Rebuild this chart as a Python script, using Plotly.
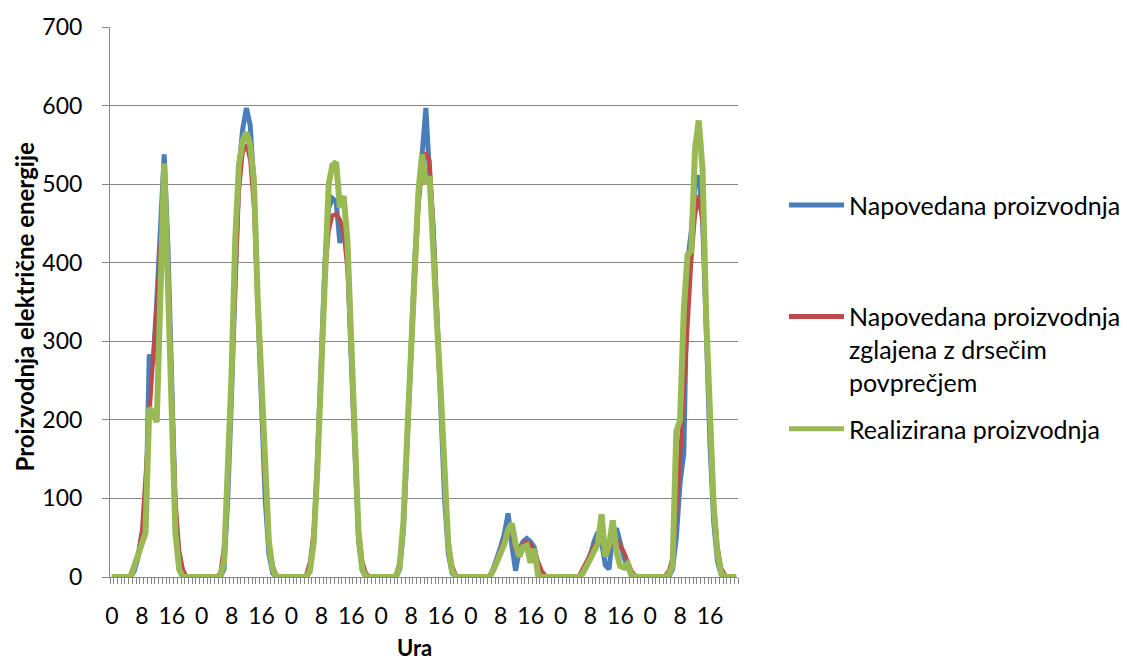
import plotly.graph_objects as go

# Hour of day for each hourly sample (7 days)
ure_dneva = list(range(24))
ura = ure_dneva * 7

# Forecast production (hourly)
napovedana = [
    0, 0, 0, 0, 0, 0, 8, 25, 55, 60, 283, 270, 350, 460, 538, 420, 240, 80, 20, 4, 0, 0, 0, 0,
    0, 0, 0, 0, 0, 0, 10, 100, 230, 400, 520, 570, 597, 575, 500, 350, 235, 100, 30, 5, 0, 0, 0, 0,
    0, 0, 0, 0, 0, 10, 50, 150, 280, 400, 470, 482, 478, 425, 450, 420, 280, 140, 45, 8, 0, 0, 0, 0,
    0, 0, 0, 0, 0, 10, 60, 170, 290, 400, 480, 540, 597, 510, 440, 330, 220, 100, 30, 5, 0, 0, 0, 0,
    0, 0, 0, 0, 0, 0, 10, 22, 38, 55, 81, 40, 8, 35, 45, 49, 45, 38, 15, 3, 0, 0, 0, 0,
    0, 0, 0, 0, 0, 0, 5, 15, 28, 45, 57, 45, 15, 10, 55, 62, 40, 25, 12, 2, 0, 0, 0, 0,
    0, 0, 0, 0, 0, 0, 10, 50, 120, 157, 400, 440, 500, 511, 460, 310, 170, 70, 20, 3, 0, 0, 0, 0,
]

# Forecast production smoothed with a moving average
zglajena = [
    0, 0, 0, 0, 0, 3, 15, 30, 56, 130, 205, 280, 350, 420, 470, 410, 250, 100, 35, 10, 0, 0, 0, 0,
    0, 0, 0, 0, 0, 5, 40, 120, 240, 390, 490, 540, 551, 530, 470, 350, 220, 110, 45, 15, 3, 0, 0, 0,
    0, 0, 0, 0, 3, 20, 60, 150, 270, 380, 440, 460, 462, 455, 440, 390, 280, 160, 65, 20, 5, 0, 0, 0,
    0, 0, 0, 0, 3, 20, 70, 170, 280, 390, 470, 520, 540, 530, 450, 340, 230, 120, 50, 15, 3, 0, 0, 0,
    0, 0, 0, 0, 0, 2, 10, 22, 36, 48, 60, 55, 35, 35, 42, 45, 42, 32, 20, 8, 2, 0, 0, 0,
    0, 0, 0, 0, 0, 2, 10, 20, 30, 40, 48, 50, 40, 35, 45, 48, 40, 32, 20, 8, 2, 0, 0, 0,
    0, 0, 0, 0, 2, 8, 25, 80, 150, 240, 330, 400, 460, 486, 450, 330, 200, 100, 40, 12, 3, 0, 0, 0,
]

# Realised production
realizirana = [
    0, 0, 0, 0, 0, 0, 14, 28, 42, 56, 215, 210, 197, 370, 526, 371, 215, 56, 10, 0, 0, 0, 0, 0,
    0, 0, 0, 0, 0, 0, 20, 130, 255, 430, 525, 555, 566, 550, 505, 355, 245, 123, 45, 10, 0, 0, 0, 0,
    0, 0, 0, 0, 0, 8, 45, 140, 270, 400, 500, 524, 528, 470, 485, 430, 290, 150, 55, 10, 0, 0, 0, 0,
    0, 0, 0, 0, 0, 15, 70, 180, 290, 410, 490, 538, 500, 510, 430, 320, 235, 120, 40, 8, 0, 0, 0, 0,
    0, 0, 0, 0, 0, 0, 8, 18, 30, 42, 60, 68, 42, 26, 38, 40, 18, 36, 3, 0, 0, 0, 0, 0,
    0, 0, 0, 0, 0, 0, 5, 13, 23, 33, 42, 80, 26, 40, 72, 32, 14, 12, 17, 2, 0, 0, 0, 0,
    0, 0, 0, 0, 0, 3, 15, 185, 200, 340, 410, 415, 545, 581, 520, 330, 190, 90, 30, 5, 0, 0, 0, 0,
]

serije = [
    ("Napovedana proizvodnja", napovedana, "#4A7EBB", 5),
    ("Napovedana proizvodnja zglajena z drsečim povprečjem", zglajena, "#BE4B48", 4),
    ("Realizirana proizvodnja", realizirana, "#98B954", 6),
]

idx = list(range(len(ura)))
# tick marks sit on category boundaries; every 8th hour gets a label
meje = [i - 0.5 for i in range(len(ura) + 1)]
meje_txt = [str(ura[i]) if i < len(ura) and ura[i] % 8 == 0 else "" for i in range(len(ura) + 1)]

FONT = "Lato"
GRAY = "#868686"
BLACK = "#000000"

fig = go.Figure()
for ime, vrednosti, barva, debelina in serije:
    fig.add_trace(go.Scatter(
        x=idx, y=vrednosti, mode="lines", name=ime,
        line=dict(color=barva, width=debelina, shape="linear"),
        showlegend=False, hoverinfo="skip",
    ))

# Plot-area geometry (pixels)
L, R, T, B = 110, 738, 24, 577
W, H = 1127, 664

def px(x):
    return (x - L) / (R - L)

def py(y):
    return (B - y) / (B - T)

legenda = [
    ("#4A7EBB", 203, ["Napovedana proizvodnja"]),
    ("#BE4B48", 315, ["Napovedana proizvodnja", "zglajena z drsečim", "povprečjem"]),
    ("#98B954", 428, ["Realizirana proizvodnja"]),
]
shapes = []
annotations = []
for barva, y0, vrstice in legenda:
    shapes.append(dict(type="line", xref="paper", yref="paper",
                       x0=px(789), x1=px(844), y0=py(y0), y1=py(y0),
                       line=dict(color=barva, width=5)))
    for k, t in enumerate(vrstice):
        annotations.append(dict(xref="paper", yref="paper", x=px(847), y=py(y0 + 33 * k),
                                xanchor="left", yanchor="middle", text=t, showarrow=False,
                                font=dict(family=FONT, size=25, color=BLACK)))

# axis titles
annotations.append(dict(xref="paper", yref="paper", x=px(414), y=py(648),
                        xanchor="center", yanchor="middle", text="<b>Ura</b>", showarrow=False,
                        font=dict(family=FONT, size=22, color=BLACK)))
annotations.append(dict(xref="paper", yref="paper", x=px(24), y=py(305),
                        xanchor="center", yanchor="middle", textangle=-90,
                        text="<b>Proizvodnja električne energije</b>", showarrow=False,
                        font=dict(family=FONT, size=24, color=BLACK)))

fig.update_layout(
    width=W, height=H,
    margin=dict(l=L, r=W - R, t=T, b=H - B, pad=0),
    paper_bgcolor="white", plot_bgcolor="white",
    font=dict(family=FONT, size=22, color=BLACK),
    shapes=shapes, annotations=annotations,
    xaxis=dict(
        range=[-0.5, len(ura) - 0.5],
        tickmode="array", tickvals=meje, ticktext=meje_txt,
        ticks="outside", ticklen=6, tickcolor=GRAY, tickwidth=1,
        ticklabelshift=2, ticklabelstandoff=12,
        tickfont=dict(family=FONT, size=23, color=BLACK),
        showgrid=False, zeroline=False,
        showline=True, linecolor=GRAY, linewidth=1,
    ),
    yaxis=dict(
        range=[0, 700], dtick=100, tick0=0,
        ticks="outside", ticklen=7, tickcolor=GRAY, tickwidth=1,
        ticklabelstandoff=15,
        tickfont=dict(family=FONT, size=23, color=BLACK),
        showgrid=True, gridcolor=GRAY, gridwidth=1,
        zeroline=False, showline=True, linecolor=GRAY, linewidth=1,
    ),
)

fig.write_html("out.html")
